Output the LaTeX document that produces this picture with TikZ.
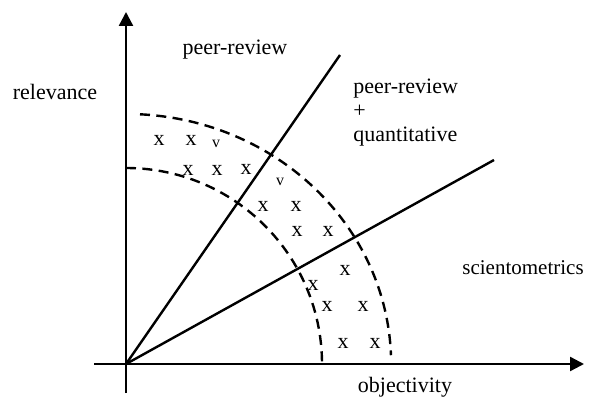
\documentclass[tikz,border=0pt]{standalone}
\usepackage{fontspec}
\setmainfont{Liberation Serif}
\usetikzlibrary{arrows.meta}
\begin{document}
\begin{tikzpicture}[x=0.5pt,y=0.5pt,
  axis/.style={line width=1.2pt,-{Triangle[width=7pt,length=7pt]}},
  ray/.style={line width=1.2pt},
  band/.style={line width=1.2pt,dash pattern=on 5pt off 3.2pt},
  lab/.style={font=\fontsize{11pt}{12pt}\selectfont,inner sep=0pt},
  xm/.style={font=\fontsize{11pt}{12pt}\selectfont,inner sep=0pt},
  vm/.style={font=\fontsize{8pt}{9pt}\selectfont,inner sep=0pt}]
\useasboundingbox (0,0) rectangle (593,396);
% axes
\coordinate (O) at (126,32);
\coordinate (ytop) at (126,384);
\coordinate (ybot) at (126,3);
\coordinate (xleft) at (94,32);
\coordinate (xright) at (584,32);
\draw[axis] (ybot) -- (ytop);
\draw[axis] (xleft) -- (xright);
% rays
\coordinate (P) at (340,341);
\coordinate (S) at (494,236);
\draw[ray] (O) -- (P);
\draw[ray] (O) -- (S);
% dashed arcs
\coordinate (inA) at (126,228);
\coordinate (outA) at (140,281.7);
\draw[band] (inA) arc[start angle=90,end angle=0,radius=98pt];
\draw[band] (outA) arc[start angle=87,end angle=2,x radius=132.5pt,y radius=125pt];
% labels
\node[lab] (rel) at (55,304) {relevance};
\node[lab] (pr) at (235,346) {peer-review};
\node[lab,align=left,anchor=west] (prq) at (353,283) {peer-review\\+\\quantitative};
\node[lab,font=\fontsize{10.5pt}{12pt}\selectfont] (sci) at (523,128) {scientometrics};
\node[lab] (obj) at (405,9) {objectivity};
% marks
\node[xm] (x1) at (159,256) {x};
\node[xm] (x2) at (191,256) {x};
\node[vm] (v1) at (216,252) {v};
\node[xm] (x3) at (188,226) {x};
\node[xm] (x4) at (217,226) {x};
\node[xm] (x5) at (246,227) {x};
\node[vm] (v2) at (280,214) {v};
\node[xm] (x6) at (263,190) {x};
\node[xm] (x7) at (296,190) {x};
\node[xm] (x8) at (297,165) {x};
\node[xm] (x9) at (328,165) {x};
\node[xm] (x10) at (345,126) {x};
\node[xm] (x11) at (313,111) {x};
\node[xm] (x12) at (327,90) {x};
\node[xm] (x13) at (363,90) {x};
\node[xm] (x14) at (343,53) {x};
\node[xm] (x15) at (375,53) {x};
\end{tikzpicture}
\end{document}
